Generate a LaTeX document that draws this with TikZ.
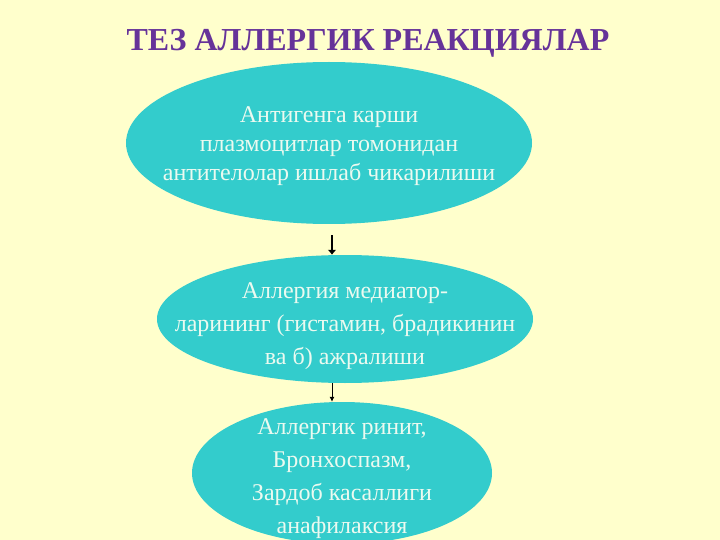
\documentclass[tikz,border=0pt]{standalone}
\usepackage{fontspec}
\setmainfont{Liberation Serif}
\usetikzlibrary{positioning}
\usetikzlibrary{shapes.geometric,arrows.meta}

\definecolor{bgyellow}{RGB}{255,255,204}
\definecolor{tealfill}{RGB}{51,204,204}
\definecolor{titlepurple}{RGB}{102,51,153}
\definecolor{paletext}{RGB}{235,250,240}

\tikzset{
  blob/.style={ellipse, fill=tealfill, inner sep=0pt},
  blobtext/.style={text=paletext, align=center, inner sep=0pt},
}

\begin{document}
\begin{tikzpicture}[x=1pt,y=-1pt]
\fill[bgyellow] (0,0) rectangle (720,540);
\useasboundingbox (0,0) rectangle (720,540);

\node[text=titlepurple,font=\fontsize{32}{36}\selectfont\bfseries](title) at (368,43){ТЕЗ АЛЛЕРГИК РЕАКЦИЯЛАР};

\node[blob,minimum width=406pt,minimum height=162pt](antigen) at (329,143){};
\node[blob,minimum width=376pt,minimum height=128pt](mediator) at (345,319){};
\node[blob,minimum width=300pt,minimum height=142pt](disease) at (342,473){};

\node[blobtext,font=\fontsize{24}{29}\selectfont](antigenText) at (329,146)
  {Антигенга карши\\плазмоцитлар томонидан\\антителолар ишлаб чикарилиши};
\node[blobtext,font=\fontsize{24}{33}\selectfont](mediatorText) at (345,326)
  {Аллергия медиатор-\\ларининг (гистамин, брадикинин\\ва б) ажралиши};
\node[blobtext,font=\fontsize{24}{33}\selectfont](diseaseText) at (342,479)
  {Аллергик ринит,\\Бронхоспазм,\\Зардоб касаллиги\\анафилаксия};

\coordinate (arrA) at (332,235);
\coordinate (arrB) at (332,383);

\path
(arrA) edge[line width=1.3pt,-{Latex[length=5pt,width=9pt]}] (arrA |- mediator.north)
(arrB) edge[line width=0.8pt,-{Latex[length=5pt,width=5pt]}] (arrB |- disease.north);
\end{tikzpicture}
\end{document}
